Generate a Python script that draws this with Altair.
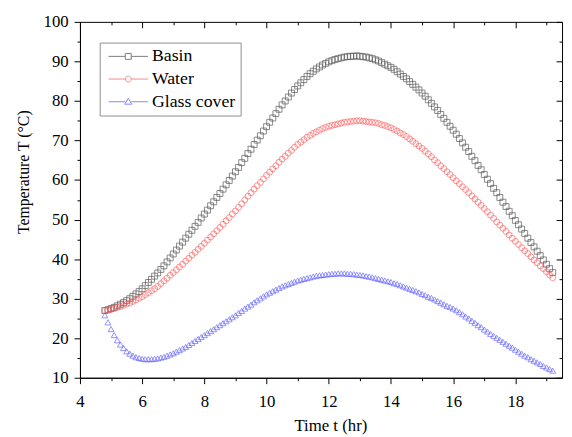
import altair as alt
import pandas as pd

# sampling grid of the simulation (hours), one marker every 0.1 hr
time_hr = [round(4.8 + 0.1 * i, 1) for i in range(145)]

basin = [
    27.0, 27.2, 27.5, 27.8, 28.2, 28.6, 29.0, 29.5, 30.0, 30.6,
    31.2, 31.8, 32.5, 33.3, 34.1, 34.9, 35.7, 36.5, 37.4, 38.3,
    39.3, 40.3, 41.3, 42.3, 43.3, 44.3, 45.3, 46.3, 47.3, 48.3,
    49.3, 50.4, 51.4, 52.4, 53.5, 54.5, 55.6, 56.6, 57.7, 58.8,
    59.9, 61.0, 62.1, 63.2, 64.4, 65.5, 66.7, 67.8, 69.0, 70.1,
    71.2, 72.4, 73.5, 74.6, 75.7, 76.8, 77.9, 79.0, 80.0, 81.0,
    82.0, 82.9, 83.8, 84.6, 85.4, 86.2, 86.9, 87.5, 88.1, 88.6,
    89.1, 89.5, 89.9, 90.2, 90.5, 90.7, 90.9, 91.1, 91.2, 91.3,
    91.3, 91.4, 91.3, 91.2, 91.1, 90.9, 90.7, 90.4, 90.1, 89.7,
    89.3, 88.9, 88.5, 88.0, 87.4, 86.8, 86.2, 85.6, 84.9, 84.2,
    83.5, 82.8, 82.0, 81.2, 80.3, 79.4, 78.5, 77.6, 76.6, 75.6,
    74.6, 73.6, 72.6, 71.6, 70.5, 69.4, 68.3, 67.2, 66.0, 64.9,
    63.7, 62.6, 61.4, 60.2, 59.1, 57.9, 56.8, 55.6, 54.4, 53.3,
    52.1, 51.0, 49.8, 48.7, 47.6, 46.5, 45.3, 44.2, 43.1, 42.0,
    40.9, 39.8, 38.7, 37.6, 36.6,
]

water = [
    27.0, 27.1, 27.3, 27.5, 27.8, 28.0, 28.3, 28.6, 28.9, 29.3,
    29.7, 30.1, 30.5, 31.0, 31.5, 32.0, 32.5, 33.1, 33.8, 34.5,
    35.2, 35.9, 36.6, 37.3, 38.0, 38.7, 39.5, 40.2, 41.0, 41.7,
    42.5, 43.2, 44.0, 44.8, 45.6, 46.4, 47.2, 48.0, 48.8, 49.7,
    50.5, 51.4, 52.2, 53.1, 54.0, 55.0, 55.9, 56.8, 57.7, 58.6,
    59.4, 60.3, 61.2, 62.0, 62.8, 63.6, 64.5, 65.3, 66.0, 66.8,
    67.5, 68.3, 69.0, 69.6, 70.2, 70.8, 71.3, 71.8, 72.2, 72.6,
    73.0, 73.3, 73.6, 73.8, 74.0, 74.2, 74.4, 74.6, 74.7, 74.8,
    74.9, 75.0, 75.0, 74.9, 74.8, 74.7, 74.6, 74.5, 74.3, 74.0,
    73.8, 73.5, 73.2, 72.8, 72.4, 71.9, 71.5, 71.0, 70.4, 69.8,
    69.2, 68.6, 68.0, 67.3, 66.6, 65.9, 65.1, 64.4, 63.6, 62.9,
    62.1, 61.4, 60.6, 59.8, 59.1, 58.3, 57.6, 56.8, 56.0, 55.2,
    54.4, 53.6, 52.8, 52.0, 51.1, 50.3, 49.4, 48.6, 47.8, 47.0,
    46.1, 45.3, 44.5, 43.7, 42.9, 42.1, 41.4, 40.6, 39.8, 39.1,
    38.3, 37.6, 36.8, 36.0, 35.3,
]

glass = [
    25.8, 24.0, 22.3, 20.8, 19.5, 18.4, 17.5, 16.7, 16.1, 15.6,
    15.2, 15.0, 14.8, 14.7, 14.7, 14.7, 14.8, 14.9, 15.1, 15.3,
    15.6, 15.9, 16.2, 16.6, 17.0, 17.4, 17.8, 18.3, 18.8, 19.3,
    19.8, 20.3, 20.8, 21.3, 21.8, 22.3, 22.8, 23.3, 23.8, 24.3,
    24.8, 25.3, 25.8, 26.4, 26.9, 27.5, 28.0, 28.5, 29.1, 29.6,
    30.1, 30.6, 31.1, 31.5, 31.9, 32.3, 32.7, 33.1, 33.4, 33.7,
    34.0, 34.3, 34.6, 34.8, 35.0, 35.2, 35.4, 35.6, 35.8, 35.9,
    36.0, 36.1, 36.2, 36.3, 36.3, 36.4, 36.4, 36.4, 36.3, 36.3,
    36.2, 36.1, 36.0, 35.9, 35.7, 35.6, 35.4, 35.2, 35.0, 34.8,
    34.6, 34.4, 34.2, 33.9, 33.7, 33.4, 33.1, 32.8, 32.5, 32.2,
    31.9, 31.6, 31.2, 30.9, 30.5, 30.2, 29.8, 29.4, 29.0, 28.6,
    28.2, 27.9, 27.5, 27.1, 26.6, 26.1, 25.5, 25.0, 24.4, 23.9,
    23.3, 22.8, 22.2, 21.7, 21.1, 20.6, 20.1, 19.6, 19.1, 18.6,
    18.1, 17.6, 17.1, 16.6, 16.1, 15.6, 15.2, 14.7, 14.3, 13.9,
    13.5, 13.0, 12.6, 12.2, 11.8,
]

series_names = ["Basin", "Water", "Glass cover"]
series_colors = ["#474747", "#ff5555", "#5555ff"]
plot_shapes = ["square", "circle", "triangle-up"]
legend_shapes = [
    "M-4,0H-0.6M0.6,0H4M-0.6,-0.6H0.6V0.6H-0.6Z",
    "M-4,0H-0.6M0.6,0H4M-0.6,0A0.6,0.6,0,1,1,0.6,0A0.6,0.6,0,1,1,-0.6,0Z",
    "M-4,0H-0.6M0.6,0H4M0,-0.7L0.7,0.5H-0.7Z",
]

x_major = [4, 6, 8, 10, 12, 14, 16, 18]
x_minor = [5, 7, 9, 11, 13, 15, 17, 19]
y_major = [10, 20, 30, 40, 50, 60, 70, 80, 90, 100]
y_minor = [15, 25, 35, 45, 55, 65, 75, 85, 95]

rows = []
for name, vals in zip(series_names, [basin, water, glass]):
    for t, v in zip(time_hr, vals):
        rows.append({"t": t, "T": v, "series": name})
df = pd.DataFrame(rows)

FONT = "Liberation Serif"
xs = alt.Scale(domain=[4, 19.5], nice=False, zero=False)
ys = alt.Scale(domain=[10, 100], nice=False, zero=False)

base = alt.Chart(df)

common_axis = dict(grid=False, domainColor="black", tickColor="black",
                   labelColor="black", titleColor="black",
                   labelFont=FONT, titleFont=FONT, tickWidth=1, domainWidth=1,
                   titleFontWeight="normal", labelFlush=False)

points = base.mark_point(filled=False, strokeWidth=0.9, size=36).encode(
    x=alt.X("t:Q", scale=xs, axis=alt.Axis(
        values=x_major, title="Time t (hr)", tickSize=6, labelFontSize=17,
        labelPadding=10, titleFontSize=17, titleX=254, titleY=48,
        titleBaseline="middle", titleAlign="center", **common_axis)),
    y=alt.Y("T:Q", scale=ys, axis=alt.Axis(
        values=y_major, title="Temperature T (°C)", tickSize=6,
        labelFontSize=17, labelPadding=6, titleFontSize=16,
        titleX=-57, titleY=152, titleBaseline="middle", titleAlign="center",
        titleAngle=270, **common_axis)),
    color=alt.Color("series:N", scale=alt.Scale(domain=series_names, range=series_colors), legend=None),
    shape=alt.Shape("series:N", scale=alt.Scale(domain=series_names, range=plot_shapes), legend=None),
)


def tick_layer(xaxis, yaxis):
    return base.mark_point(opacity=0).encode(
        x=alt.X("t:Q", scale=xs, axis=xaxis),
        y=alt.Y("T:Q", scale=ys, axis=yaxis),
    )


def ticks(orient, values, size):
    inward = orient in ("top", "right")
    kw = dict(orient=orient, values=values, tickSize=size, labels=False,
              domain=False, title=None, grid=False, tickColor="black", tickWidth=1)
    if inward:
        kw["offset"] = -size
    return alt.Axis(**kw)


layers = [
    points,
    tick_layer(ticks("bottom", x_minor, 3), None),
    tick_layer(None, ticks("left", y_minor, 3)),
    tick_layer(ticks("top", x_major, 6), ticks("right", y_major, 6)),
    tick_layer(ticks("top", x_minor, 3), ticks("right", y_minor, 3)),
]

legend_kw = dict(title=None, orient="none", legendX=20, legendY=21,
                 strokeColor="#8c8c8c", fillColor="white", padding=5,
                 labelFont=FONT, labelFontSize=18, labelColor="black",
                 symbolSize=100, symbolStrokeWidth=1, symbolOffset=15,
                 labelOffset=15, rowPadding=5)

legend_layer = base.mark_point(filled=False, strokeWidth=1).encode(
    x=alt.X("t:Q", scale=xs, axis=None),
    y=alt.Y("T:Q", scale=ys, axis=None),
    color=alt.Color("series:N", scale=alt.Scale(domain=series_names, range=series_colors),
                    legend=alt.Legend(**legend_kw)),
    shape=alt.Shape("series:N", scale=alt.Scale(domain=series_names, range=legend_shapes),
                    legend=alt.Legend(**legend_kw)),
).transform_filter("false")

layers.append(legend_layer)

chart = alt.layer(*layers).resolve_axis(
    x="independent", y="independent"
).resolve_scale(
    color="independent", shape="independent"
).properties(
    width=489, height=361,
    autosize=alt.AutoSizeParams(type="none"),
    padding={"left": 73, "top": 11, "right": 2, "bottom": 56},
    background="white",
).configure_view(stroke="black", strokeWidth=1)

chart.save("out.html", embed_options={"renderer": "svg", "actions": False})
